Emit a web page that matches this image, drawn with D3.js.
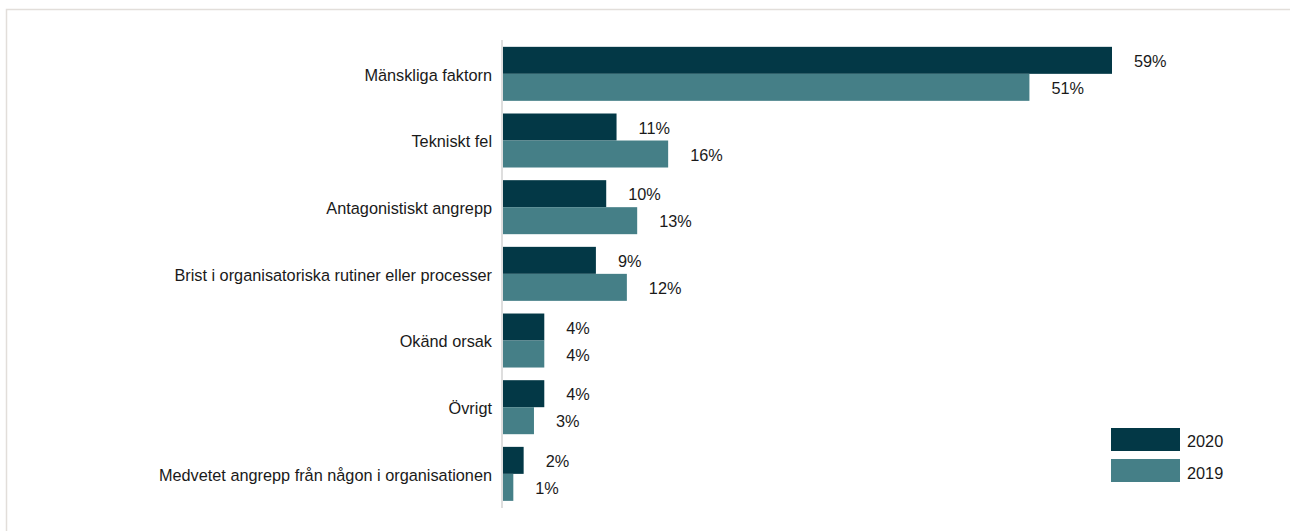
<!DOCTYPE html>
<html>
<head>
<meta charset="utf-8">
<script src="https://cdn.jsdelivr.net/npm/d3@7"></script>
<style>
  html, body { margin: 0; padding: 0; background: #fff; }
  svg { display: block; font-family: "Liberation Sans", Arial, sans-serif; }
</style>
</head>
<body>
<svg id="chart" width="1290" height="531"></svg>
<script>
// Causes of incidents, share of reports per year
const categories = [
  "Mänskliga faktorn",
  "Tekniskt fel",
  "Antagonistiskt angrepp",
  "Brist i organisatoriska rutiner eller processer",
  "Okänd orsak",
  "Övrigt",
  "Medvetet angrepp från någon i organisationen"
];
const seriesNames = ["2020", "2019"];
const values2020 = [59, 11, 10, 9, 4, 4, 2];
const values2019 = [51, 16, 13, 12, 4, 3, 1];
const seriesColors = ["#033846", "#457f87"];

const FONT_SIZE = 16.3;
const TEXT_COLOR = "#1a1a1a";

const svg = d3.select("#chart");

// light frame around the chart area
svg.append("rect")
  .attr("x", 6.5).attr("y", 9.5)
  .attr("width", 1300).attr("height", 540)
  .attr("fill", "none")
  .attr("stroke", "#e2deda")
  .attr("stroke-width", 1.5);

const x0 = 503;
const x = d3.scaleLinear().domain([0, 59]).range([x0, 1112]);

const y = d3.scaleBand()
  .domain(categories)
  .range([40.5, 507.2])
  .paddingInner(0.19)
  .paddingOuter(0.095);

const ySub = d3.scaleBand()
  .domain(seriesNames)
  .range([0, y.bandwidth()]);

const rows = categories.map((c, i) => ({
  cat: c,
  vals: [
    { s: "2020", v: values2020[i] },
    { s: "2019", v: values2019[i] }
  ]
}));

const g = svg.append("g");

const groups = g.selectAll("g.row")
  .data(rows)
  .join("g")
  .attr("class", "row")
  .attr("transform", d => `translate(0,${y(d.cat)})`);

groups.selectAll("rect")
  .data(d => d.vals)
  .join("rect")
  .attr("x", x(0))
  .attr("y", d => ySub(d.s))
  .attr("width", d => x(d.v) - x(0))
  .attr("height", ySub.bandwidth())
  .attr("fill", (d, i) => seriesColors[i]);

groups.selectAll("text.val")
  .data(d => d.vals)
  .join("text")
  .attr("class", "val")
  .attr("x", d => x(d.v) + 22)
  .attr("y", d => ySub(d.s) + ySub.bandwidth() / 2 + 1)
  .attr("dy", "0.35em")
  .attr("font-size", FONT_SIZE)
  .attr("fill", TEXT_COLOR)
  .text(d => d.v + "%");

// category axis on the left
const yAxis = d3.axisLeft(y).tickSize(0).tickPadding(10);
const axisG = svg.append("g")
  .attr("transform", `translate(${x0 - 1},0)`)
  .call(yAxis);
axisG.select(".domain")
  .attr("stroke", "#d3d3d3")
  .attr("stroke-width", 1.5)
  .attr("d", `M0,${40}V${508}`);
axisG.selectAll("text")
  .attr("font-size", FONT_SIZE)
  .attr("font-family", "Liberation Sans, Arial, sans-serif")
  .attr("fill", TEXT_COLOR)
  .attr("dy", "0.42em");

// legend
const legend = svg.append("g").attr("transform", "translate(1111,428)");
const li = legend.selectAll("g")
  .data(seriesNames)
  .join("g")
  .attr("transform", (d, i) => `translate(0,${i * 31})`);
li.append("rect")
  .attr("width", 69).attr("height", 23)
  .attr("fill", (d, i) => seriesColors[i]);
li.append("text")
  .attr("x", 76).attr("y", (d, i) => 13 + i * 1.5).attr("dy", "0.35em")
  .attr("font-size", FONT_SIZE)
  .attr("fill", TEXT_COLOR)
  .text(d => d);
</script>
</body>
</html>
